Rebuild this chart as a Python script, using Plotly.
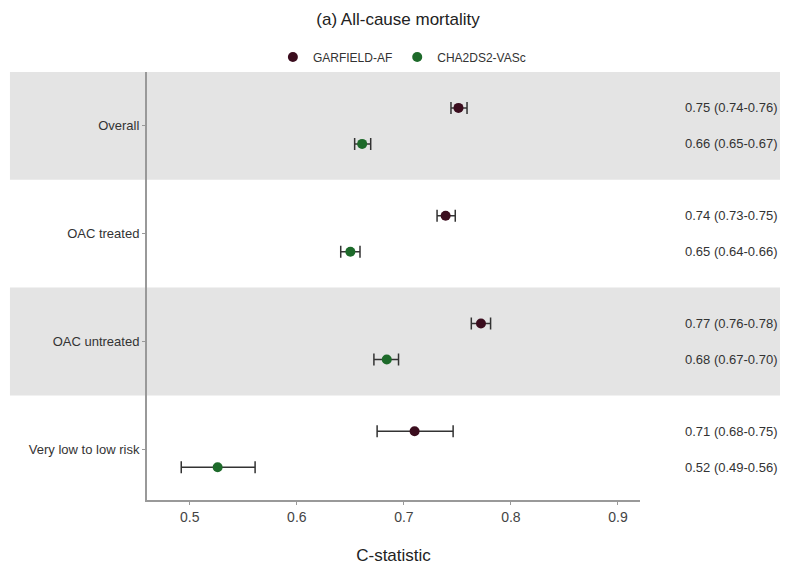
import plotly.graph_objects as go

groups = ["Overall", "OAC treated", "OAC untreated", "Very low to low risk"]
group_pos = [4, 3, 2, 1]

garfield_est = [0.751, 0.739, 0.772, 0.710]
garfield_lo = [0.744, 0.731, 0.763, 0.675]
garfield_hi = [0.759, 0.748, 0.781, 0.746]
garfield_labels = ["0.75 (0.74-0.76)", "0.74 (0.73-0.75)", "0.77 (0.76-0.78)", "0.71 (0.68-0.75)"]

cha_est = [0.661, 0.650, 0.684, 0.526]
cha_lo = [0.654, 0.641, 0.672, 0.492]
cha_hi = [0.669, 0.659, 0.695, 0.561]
cha_labels = ["0.66 (0.65-0.67)", "0.65 (0.64-0.66)", "0.68 (0.67-0.70)", "0.52 (0.49-0.56)"]

x_ticks = [0.5, 0.6, 0.7, 0.8, 0.9]

offset = 0.167
FONT = "Liberation Sans, Arial, sans-serif"
col_g = "#3b0d1e"
col_c = "#1d6a2a"

fig = go.Figure()

# bands
for i, p in enumerate(group_pos):
    if i % 2 == 0:
        fig.add_shape(type="rect", xref="paper", yref="y", x0=-0.278, x1=1.31,
                      y0=p - 0.5, y1=p + 0.5, fillcolor="#e4e4e4", line_width=0, layer="below")

def add_series(name, est, lo, hi, color, dy):
    fig.add_trace(go.Scatter(
        x=est, y=[p + dy for p in group_pos], mode="markers", name=name,
        marker=dict(color=color, size=10),
        error_x=dict(type="data", symmetric=False,
                     array=[h - e for h, e in zip(hi, est)],
                     arrayminus=[e - l for e, l in zip(est, lo)],
                     color="#333333", thickness=1.5, width=6),
        cliponaxis=False,
    ))

add_series("GARFIELD-AF", garfield_est, garfield_lo, garfield_hi, col_g, offset)
add_series("CHA2DS2-VASc", cha_est, cha_lo, cha_hi, col_c, -offset)

for p, gl, cl in zip(group_pos, garfield_labels, cha_labels):
    fig.add_annotation(x=1.284, xref="paper", y=p + offset, yref="y", text=gl, showarrow=False,
                       xanchor="right", font=dict(size=13, color="#333", family=FONT))
    fig.add_annotation(x=1.284, xref="paper", y=p - offset, yref="y", text=cl, showarrow=False,
                       xanchor="right", font=dict(size=13, color="#333", family=FONT))

fig.update_layout(
    width=780, height=559,
    margin=dict(l=139, r=148, t=64, b=67, autoexpand=False),
    plot_bgcolor="rgba(0,0,0,0)", paper_bgcolor="white",
    title=dict(text="(a) All-cause mortality", x=0.5, xanchor="center", y=0.981, yanchor="middle",
               font=dict(size=17, color="#222", family=FONT)),
    legend=dict(orientation="h", x=0.517, xanchor="center", y=1.035, yanchor="middle",
                font=dict(size=12, color="#333", family=FONT), bgcolor="rgba(0,0,0,0)",
                itemwidth=30),
    showlegend=True,
    font=dict(family=FONT),
)
fig.update_xaxes(range=[0.46, 0.9206], tickvals=x_ticks, ticktext=[str(t) for t in x_ticks],
                 showgrid=False, zeroline=False, showline=True, linecolor="#999", linewidth=2,
                 ticks="outside", ticklen=3, tickcolor="#999", automargin=False,
                 tickfont=dict(size=14, color="#444", family=FONT),
                 title=dict(text="C-statistic", font=dict(size=17, color="#222", family=FONT), standoff=25))
fig.update_yaxes(range=[0.53, 4.5], tickvals=group_pos, ticktext=groups,
                 showgrid=False, zeroline=False, showline=True, linecolor="#999", linewidth=2,
                 ticks="outside", ticklen=3, tickcolor="#999", automargin=False,
                 tickfont=dict(size=13, color="#333", family=FONT))

fig.write_html("out.html")
